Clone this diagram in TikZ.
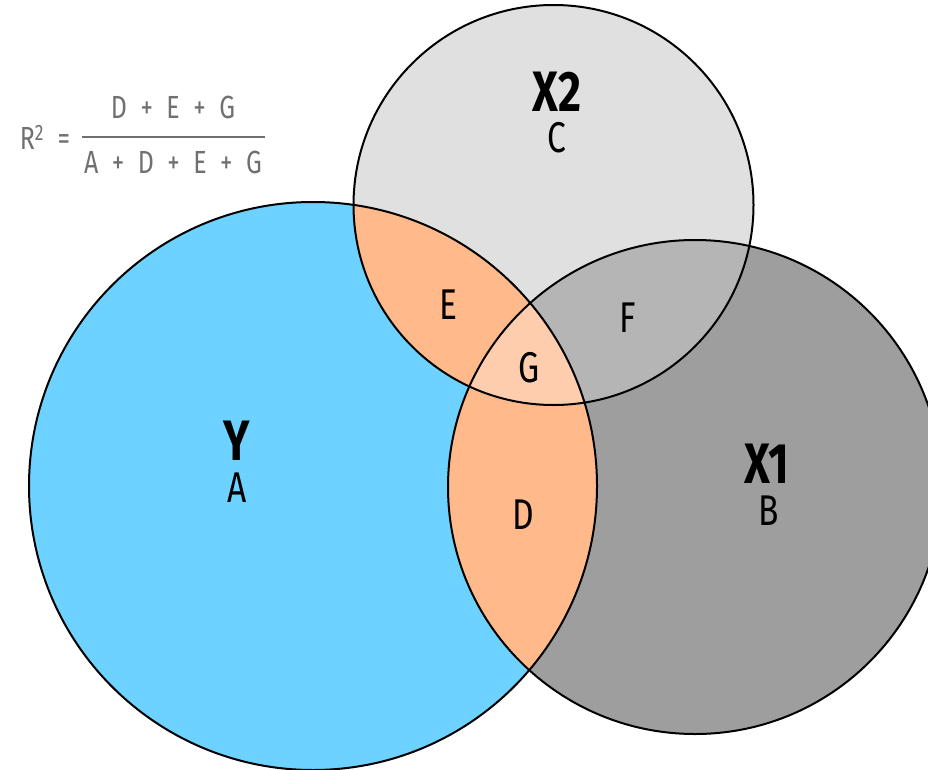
\documentclass[tikz,border=0pt]{standalone}
\usepackage{fontspec}
\setmainfont{Fira Sans}[FakeStretch=0.78]
\usetikzlibrary{positioning}
\definecolor{VennBlue}{HTML}{6DD2FF}
\definecolor{VennLight}{HTML}{E0E0E0}
\definecolor{VennDark}{HTML}{9E9E9E}
\definecolor{VennMid}{HTML}{B5B5B5}
\definecolor{VennOrange}{HTML}{FFB98B}
\definecolor{VennPeach}{HTML}{FDCDAE}
\definecolor{VennText}{HTML}{707070}

\begin{document}
\begin{tikzpicture}[x=1pt, y=-1pt,
    part/.style={inner sep=0pt, font=\fontsize{43}{43}\selectfont},
    title/.style={inner sep=0pt, font=\fontsize{57}{57}\selectfont\bfseries},
    formula/.style={inner sep=0pt, text=VennText, font={\fontsize{32}{32}\selectfont\spaceskip=13.5pt\relax}}]
    \useasboundingbox (0,0) rectangle (928,770);

    % Circle centres
    \coordinate (cy) at (313,486);
    \coordinate (cx1) at (695,487);
    \coordinate (cx2) at (553.5,205);

    % Fills
    \fill[VennLight] (cx2) circle (200);
    \fill[VennDark] (cx1) circle (247);
    \begin{scope}
        \clip (cx1) circle (247);
        \fill[VennMid] (cx2) circle (200);
    \end{scope}
    \fill[VennBlue] (cy) circle (284);
    \begin{scope}
        \clip (cy) circle (284);
        \fill[VennOrange] (cx1) circle (247);
        \fill[VennOrange] (cx2) circle (200);
        \clip (cx1) circle (247);
        \fill[VennPeach] (cx2) circle (200);
    \end{scope}

    % Outlines
    \draw[line width=2pt] (cy) circle (284);
    \draw[line width=2pt] (cx1) circle (247);
    \draw[line width=2pt] (cx2) circle (200);

    % Circle titles
    \node[title] (ytitle) at (237,441) {Y};
    \node[part] (a) at (237,488) {A};
    \node[title] (x1title) at (767,464) {X1};
    \node[part] (b) at (769,511) {B};
    \node[title] (x2title) at (557,92) {X2};
    \node[part] (c) at (557,138) {C};

    % Overlap labels
    \node[part] (d) at (523,515) {D};
    \node[part] (e) at (448,305) {E};
    \node[part] (f) at (628,318) {F};
    \node[part] (g) at (529,368) {G};

    % Formula
    \node[formula] (rsq) at (45,137) {R\textsuperscript{2} =};
    \node[formula] (num) at (173,107.5) {D + E + G};
    \node[formula] (den) at (173,162.5) {A + D + E + G};
    \draw[VennText, line width=2pt] (82,137) -- (265,137);
\end{tikzpicture}
\end{document}
